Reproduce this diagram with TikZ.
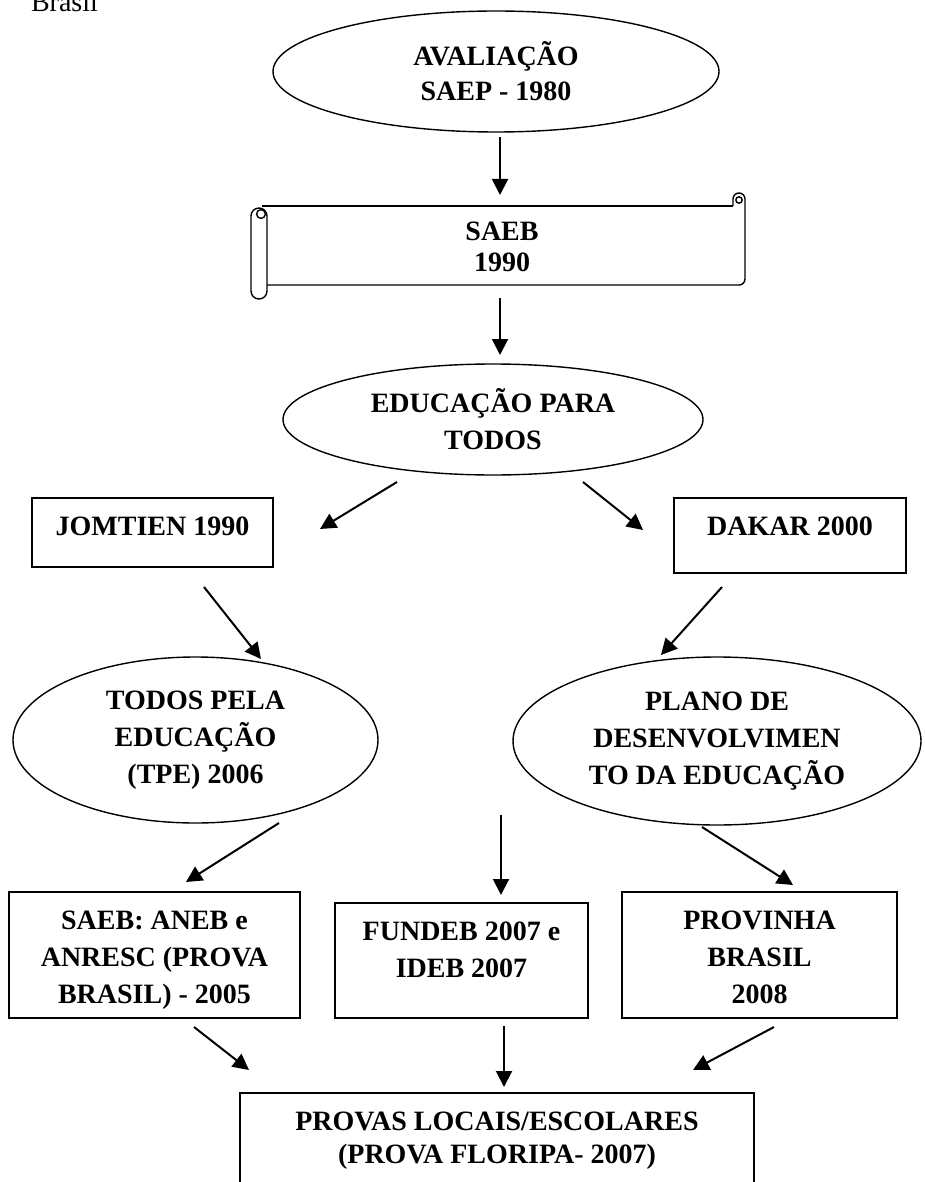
\documentclass[tikz,border=0pt]{standalone}
\usepackage{fontspec}
\setmainfont{Liberation Serif}
\usetikzlibrary{arrows.meta, shapes.geometric}

\newcommand{\boxtext}[3]{\parbox[c][#1][t]{#2}{\centering\rule{0pt}{18.5pt}#3}}

\begin{document}
\begin{tikzpicture}[
  x=0.5pt, y=-0.5pt,
  every node/.style={align=center, font=\bfseries\fontsize{14}{18.5}\selectfont},
  oval/.style={ellipse, draw, line width=0.7pt, inner sep=0pt},
  box/.style={draw, line width=0.8pt, inner sep=0pt},
  arr/.style={line width=1pt, -{Triangle[length=8pt, width=8pt]}}
  ]
\useasboundingbox (0,0) rectangle (925,1182);

% Caption fragment
\node[anchor=base west, font=\fontsize{14}{18.5}\selectfont] (cap) at (24,12) {Brasil};

% Top of the chain
\node[oval, minimum width=223pt, minimum height=60.5pt] (aval) at (496,71.5) {AVALIAÇÃO\\[-1pt]SAEP - 1980};

% Scroll
\node[inner sep=0pt] (saeb) at (502,247) {SAEB\\[-3pt]1990};
\draw[line width=0.7pt, rounded corners=4pt] (251,208) rectangle (267,299);
\draw[line width=0.7pt] (261,214) circle (2.2pt);
\draw[line width=0.7pt] (262,206) -- (733,206);
\draw[line width=0.7pt] (267,285) -- (739,285) arc[start angle=-90, end angle=0, radius=3pt]
  -- (745,199) arc[start angle=0, end angle=180, radius=3pt] -- (733,206);
\draw[line width=0.7pt] (739,200) circle (1.6pt);

\node[oval, minimum width=210pt, minimum height=55.5pt] (edu) at (493,419.5) {EDUCAÇÃO PARA\\TODOS};

% Two branches
\node[box] (jomtien) at (152.5,532.5) {\boxtext{34.5pt}{120.5pt}{JOMTIEN 1990}};
\node[box] (dakar) at (790,535.5) {\boxtext{37.5pt}{116pt}{DAKAR 2000}};

\node[oval, minimum width=182.5pt, minimum height=83pt] (tpe) at (195.5,740) {TODOS PELA\\EDUCAÇÃO\\(TPE) 2006};
\node[oval, minimum width=204pt, minimum height=84pt] (pde) at (717,741) {PLANO DE\\DESENVOLVIMEN\\TO DA EDUCAÇÃO};

% Third row
\node[box] (aneb) at (154.5,955) {\boxtext{63pt}{145.5pt}{SAEB: ANEB e\\ANRESC (PROVA\\BRASIL) - 2005}};
\node[box] (fundeb) at (461.5,960.5) {\boxtext{57.5pt}{126.5pt}{FUNDEB 2007 e\\IDEB 2007}};
\node[box] (provinha) at (759.5,955) {\boxtext{63pt}{137.5pt}{PROVINHA\\BRASIL\\2008}};

% Bottom
\node[box] (locais) at (497,1141.5) {\boxtext{48.5pt}{257pt}{PROVAS LOCAIS/ESCOLARES\\[-2pt](PROVA FLORIPA- 2007)}};

% Arrow ends
\coordinate (aval-out) at (500,137);   \coordinate (saeb-in) at (500,195);
\coordinate (saeb-out) at (500,298);   \coordinate (edu-in) at (500,355);
\coordinate (edu-outl) at (397,482);   \coordinate (jomtien-in) at (320,529);
\coordinate (edu-outr) at (583,482);   \coordinate (dakar-in) at (643,530);
\coordinate (jomtien-out) at (204,587); \coordinate (tpe-in) at (261,659);
\coordinate (dakar-out) at (722,587);  \coordinate (pde-in) at (661,655);
\coordinate (tpe-out) at (279,823);    \coordinate (aneb-in) at (186,882);
\coordinate (mid-out) at (501,815);    \coordinate (fundeb-in) at (501,895);
\coordinate (pde-out) at (702,827);    \coordinate (provinha-in) at (793,885);
\coordinate (aneb-out) at (194,1027);  \coordinate (locais-inl) at (249,1070);
\coordinate (fundeb-out) at (504,1026); \coordinate (locais-in) at (504,1087);
\coordinate (provinha-out) at (774,1027); \coordinate (locais-inr) at (693,1070);

% Arrows
\draw[arr] (aval-out) -- (saeb-in);
\draw[arr] (saeb-out) -- (edu-in);
\draw[arr] (edu-outl) -- (jomtien-in);
\draw[arr] (edu-outr) -- (dakar-in);
\draw[arr] (jomtien-out) -- (tpe-in);
\draw[arr] (dakar-out) -- (pde-in);
\draw[arr] (tpe-out) -- (aneb-in);
\draw[arr] (mid-out) -- (fundeb-in);
\draw[arr] (pde-out) -- (provinha-in);
\draw[arr] (aneb-out) -- (locais-inl);
\draw[arr] (fundeb-out) -- (locais-in);
\draw[arr] (provinha-out) -- (locais-inr);
\end{tikzpicture}
\end{document}
